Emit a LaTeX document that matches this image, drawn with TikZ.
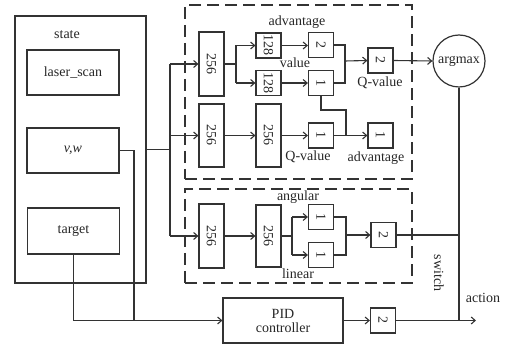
\documentclass[tikz,border=0pt]{standalone}
\usepackage{fontspec}
\setmainfont{Liberation Serif}
\usetikzlibrary{arrows.meta}
\begin{document}
\begin{tikzpicture}[x=1pt,y=-1pt,
  every node/.style={font=\fontsize{14}{15}\selectfont, text=black!85},
  ln/.style={draw=black!80, line width=1.1pt},
  bx/.style={draw=black!80, line width=1.2pt, inner sep=0pt, minimum width=25pt, minimum height=25pt},
  arr/.style={ln, -{Straight Barb[length=4pt,width=7pt]}},
  dbox/.style={draw=black!80, line width=1.3pt, dash pattern=on 12pt off 6pt, inner sep=0pt},
  lbl/.style={inner sep=0pt}]
\useasboundingbox (0,0) rectangle (515,347);

% state box
\node[draw=black!80, line width=1.6pt, inner sep=0pt, minimum width=131pt, minimum height=267pt] (statebox) at (80.5,149.5) {};
\node[lbl] (statelbl) at (67,35) {state};
\node[bx, minimum width=92pt, minimum height=45pt] (laser) at (73,72.5) {laser\_scan};
\node[bx, minimum width=92pt, minimum height=45pt] (vw) at (73,150.5) {\textit{v,w}};
\node[bx, minimum width=92pt, minimum height=46pt] (target) at (73.5,231) {target};

% dashed boxes
\node[dbox, minimum width=227pt, minimum height=174pt] (dtop) at (298.5,92) {};
\node[dbox, minimum width=227pt, minimum height=94pt] (dbot) at (298.5,236) {};

% top network
\node[bx, minimum height=64pt] (a256) at (211.5,64) {\rotatebox{-90}{256}};
\node[bx] (a128) at (268.5,45.5) {\rotatebox{-90}{128}};
\node[bx] (b128) at (268.5,83) {\rotatebox{-90}{128}};
\node[bx] (adv2) at (321,45) {\rotatebox{-90}{2}};
\node[bx] (val1) at (321,83) {\rotatebox{-90}{1}};
\node[bx] (q2) at (380.5,60.5) {\rotatebox{-90}{2}};
\node[draw=black!80, line width=1.2pt, circle, minimum size=52pt, inner sep=0pt] (argmax) at (459,61) {argmax};

\node[lbl] (advlbl) at (297,22) {advantage};
\node[lbl] (vallbl) at (295,63) {value};
\node[lbl] (qlbl) at (380,83) {Q-value};

% middle network
\node[bx, minimum height=63pt] (b256) at (211.5,135.5) {\rotatebox{-90}{256}};
\node[bx, minimum height=63pt] (m256) at (268.5,135.5) {\rotatebox{-90}{256}};
\node[bx] (m1) at (321,135.5) {\rotatebox{-90}{1}};
\node[bx] (adv1) at (380.5,135.5) {\rotatebox{-90}{1}};
\node[lbl] (qlbl2) at (308,157) {Q-value};
\node[lbl] (advlbl2) at (376,158) {advantage};

% bottom network
\node[bx, minimum height=64pt] (c256) at (211.5,236) {\rotatebox{-90}{256}};
\node[bx, minimum height=62pt] (d256) at (268.5,236) {\rotatebox{-90}{256}};
\node[bx] (ang1) at (321,217) {\rotatebox{-90}{1}};
\node[bx] (lin1) at (321,255) {\rotatebox{-90}{1}};
\node[bx] (sw2) at (383.5,235) {\rotatebox{-90}{2}};
\node[lbl] (anglbl) at (298,197) {angular};
\node[lbl] (linlbl) at (298,274) {linear};

% PID
\node[bx, minimum width=120pt, minimum height=45pt, align=center] (pid) at (283,320.5) {PID\\[-1pt]controller};
\node[bx] (pid2) at (383,320.5) {\rotatebox{-90}{2}};
\node[lbl, rotate=-90] (swlbl) at (439,273) {switch};
\node[lbl] (actlbl) at (483,298) {action};

% coordinates
\coordinate (t1) at (170,64);
\coordinate (t2) at (170,135.5);
\coordinate (t3) at (170,236);
\coordinate (ts) at (170,149.5);
\coordinate (vwd) at (134,320.5);
\coordinate (tgd) at (73.5,320.5);
\coordinate (sa) at (236,64);
\coordinate (sa1) at (236,45.5);
\coordinate (sa2) at (236,83);
\coordinate (ja) at (345,61);
\coordinate (jv) at (346,110);
\coordinate (jm) at (346,135.5);
\coordinate (sb) at (292,236);
\coordinate (sb1) at (292,217);
\coordinate (sb2) at (292,255);
\coordinate (jb) at (346,235);
\coordinate (vr) at (459,235);
\coordinate (vb) at (459,320.5);
\coordinate (act) at (476,320.5);

% connectors
\draw[ln] (statebox.east |- ts) -- (ts);
\draw[ln] (t1) -- (t3);
\draw[arr] (t1) -- (a256.west);
\draw[arr] (t2) -- (b256.west);
\draw[arr] (t3) -- (c256.west);

\draw[ln] (vw.east) -| (vwd);
\draw[arr] (target.south) -- (tgd) -- (pid.west);

\draw[ln] (a256.east) -- (sa);
\draw[ln] (sa1) -- (sa2);
\draw[arr] (sa1) -- (a128.west);
\draw[arr] (sa2) -- (b128.west);
\draw[arr] (a128.east) -- (adv2.west |- a128.east);
\draw[arr] (b128.east) -- (val1.west);
\draw[ln] (adv2.east) -| (ja);
\draw[ln] (val1.east) -| (ja);
\draw[arr] (ja) -- (q2.west);
\draw[arr] (q2.east) -- (argmax.west);
\draw[ln] (val1.south) |- (jv) -- (jm);

\draw[arr] (b256.east) -- (m256.west);
\draw[arr] (m256.east) -- (m1.west);
\draw[arr] (m1.east) -- (adv1.west);

\draw[arr] (c256.east) -- (d256.west);
\draw[ln] (d256.east) -- (sb);
\draw[ln] (sb1) -- (sb2);
\draw[arr] (sb1) -- (ang1.west);
\draw[arr] (sb2) -- (lin1.west);
\draw[ln] (ang1.east) -| (jb);
\draw[ln] (lin1.east) -| (jb);
\draw[arr] (jb) -- (sw2.west);
\draw[ln] (sw2.east) -- (vr);
\draw[ln] (argmax.south) -- (vb);

\draw[arr] (pid.east) -- (pid2.west);
\draw[arr] (pid2.east) -- (act);
\end{tikzpicture}
\end{document}
